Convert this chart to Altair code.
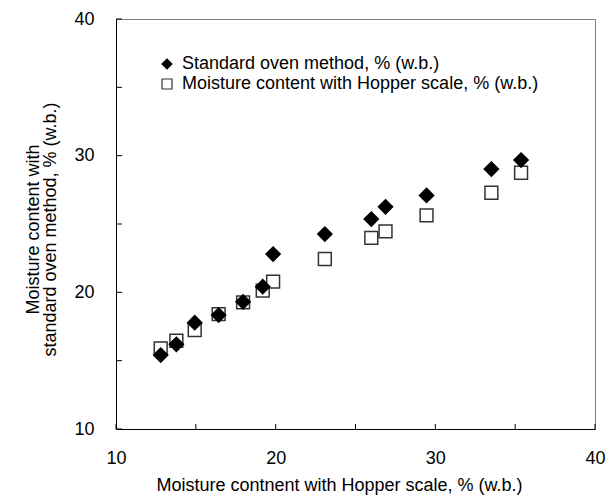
import altair as alt
import pandas as pd

# Data
hopper_x = [12.80, 13.78, 14.93, 16.43, 17.96, 19.19, 19.84, 23.08, 25.99, 26.88, 29.45, 33.51, 35.37]
oven_y = [15.41, 16.20, 17.78, 18.34, 19.31, 20.41, 22.80, 24.26, 25.36, 26.26, 27.09, 29.02, 29.68]
hopper_y = [15.90, 16.46, 17.24, 18.41, 19.27, 20.12, 20.78, 22.44, 23.99, 24.46, 25.63, 27.29, 28.75]
series_names = ["Standard oven method, % (w.b.)", "Moisture content with Hopper scale, % (w.b.)"]
tick_values = [10, 15, 20, 25, 30, 35, 40]
label_values = [10, 20, 30, 40]

rows = []
# squares first so the diamonds are drawn on top
for xv, yv in zip(hopper_x, hopper_y):
    rows.append({"x": xv, "y": yv, "s": series_names[1]})
for xv, yv in zip(hopper_x, oven_y):
    rows.append({"x": xv, "y": yv, "s": series_names[0]})
df = pd.DataFrame(rows)
ticks = pd.DataFrame({"x": tick_values, "y": tick_values})

FONT = "Liberation Sans"
W, H = 479, 410
xs = alt.Scale(domain=[10, 40], nice=False, zero=False)
ys = alt.Scale(domain=[10, 40], nice=False, zero=False)

leg = alt.Legend(title=None, orient="none", legendX=42, legendY=36, padding=0,
                 symbolSize=100, labelFontSize=18, labelFont=FONT, labelColor="black",
                 labelOffset=6, rowPadding=2, symbolStrokeWidth=1.2, labelLimit=600)

points = alt.Chart(df).mark_point(opacity=1, strokeWidth=1.5, filled=True).encode(
    x=alt.X("x:Q", scale=xs, axis=alt.Axis(
        values=label_values, title="Moisture contnent with Hopper scale, % (w.b.)",
        ticks=False, grid=False, labelPadding=20, labelFontSize=18, labelFont=FONT,
        labelFlush=False, labelOverlap=False,
        labelColor="black", titleFont=FONT, titleFontSize=18, titleFontWeight="normal",
        titleColor="black", titleBaseline="alphabetic", titleY=61, titleX=223,
        titleAlign="center", domainColor="black", domainWidth=1, zindex=1)),
    y=alt.Y("y:Q", scale=ys, axis=alt.Axis(
        values=label_values, title=["Moisture content with", "standard oven method, % (w.b.)"],
        ticks=False, grid=False, labelPadding=22, labelFontSize=18, labelFont=FONT,
        labelFlush=False, labelOverlap=False,
        labelColor="black", titleFont=FONT, titleFontSize=18, titleFontWeight="normal",
        titleColor="black", titleAngle=270, titleBaseline="alphabetic", titleAlign="center",
        titleX=-78, titleY=210, titleLineHeight=17, domainColor="black", domainWidth=1, zindex=1)),
    shape=alt.Shape("s:N", scale=alt.Scale(domain=series_names, range=["diamond", "square"]),
                    legend=leg),
    fill=alt.Fill("s:N", scale=alt.Scale(domain=series_names, range=["black", "white"]),
                  legend=leg),
    stroke=alt.Stroke("s:N", scale=alt.Scale(domain=series_names, range=["black", "#333333"]),
                      legend=leg),
    size=alt.condition(alt.datum.s == series_names[0], alt.value(200), alt.value(165)),
)

xticks = alt.Chart(ticks).mark_rule(color="black", strokeWidth=1).encode(
    x=alt.X("x:Q", scale=xs),
    y=alt.value(H), y2=alt.value(H - 5),
)
yticks = alt.Chart(ticks).mark_rule(color="black", strokeWidth=1).encode(
    y=alt.Y("y:Q", scale=ys),
    x=alt.value(0), x2=alt.value(6),
)

chart = alt.layer(points, xticks, yticks).properties(
    width=W, height=H,
    autosize=alt.AutoSizeParams(type="none"),
    padding={"left": 116, "top": 19, "right": 21, "bottom": 70},
    background="white",
).configure_view(
    stroke="#808080", strokeWidth=1
)

chart.save("out.html", embed_options={"renderer": "svg", "actions": False})
